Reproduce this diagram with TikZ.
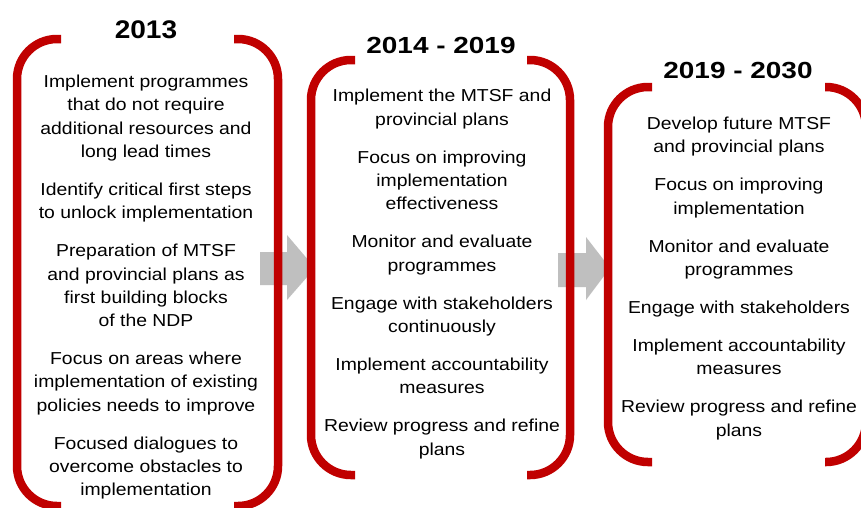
\documentclass[tikz,border=0pt]{standalone}
\usepackage{fontspec}
\setmainfont{Liberation Sans}
\newfontfamily\bodyfont{Liberation Sans}[FakeStretch=1.12]
\newfontfamily\headfontA{Liberation Sans}[FakeStretch=1.10]
\newfontfamily\headfontB{Liberation Sans}[FakeStretch=1.20]
\definecolor{brkred}{RGB}{192,0,0}
\definecolor{arrgray}{RGB}{191,191,191}
\tikzset{
  brk/.style={draw=brkred, line width=8.5pt, rounded corners=40pt},
  bodytext/.style={font=\bodyfont\fontsize{17.3}{23.3}\selectfont, align=center, inner sep=0pt, anchor=north, text=black},
  headA/.style={font=\headfontA\bfseries\fontsize{25.5}{30}\selectfont, anchor=base, inner sep=0pt},
  headB/.style={font=\headfontB\bfseries\fontsize{23.3}{28}\selectfont, anchor=base, inner sep=0pt},
  bigarrow/.style={fill=arrgray, draw=none}
}
\begin{document}
\begin{tikzpicture}[x=1pt,y=-1pt]
\useasboundingbox (0,0) rectangle (861,507);
\fill[white] (0,0) rectangle (861,507);
\clip (0,0) rectangle (861,507);

% gray arrows
\fill[bigarrow] (260,252) -- (287,252) -- (287,235) -- (315,268) -- (287,300) -- (287,285) -- (260,285) -- cycle;
\fill[bigarrow] (558,253) -- (586,253) -- (586,237) -- (610,268) -- (586,300) -- (586,287) -- (558,287) -- cycle;

% box 1 brackets
\draw[brk] (61,39) -- (17,39) -- (17,506) -- (61,506);
\draw[brk] (234,39) -- (278,39) -- (278,506) -- (234,506);
% box 2 brackets
\draw[brk] (355,60) -- (311,60) -- (311,475) -- (355,475);
\draw[brk] (527,60) -- (570,60) -- (570,475) -- (527,475);
% box 3 brackets
\draw[brk] (652,87) -- (608,87) -- (608,462) -- (652,462);
\draw[brk] (825,87) -- (866,87) -- (866,462) -- (825,462);

% headings
\node[headA] (h1) at (146,38.3) {2013};
\node[headB] (h2) at (441,53.3) {2014 - 2019};
\node[headB] (h3) at (738,78.3) {2019 - 2030};

% texts
\node[bodytext] (t1) at (146,73.3) {\rule{0pt}{14pt}Implement programmes\\that do not require\\additional resources and\\long lead times\\[14.7pt]
Identify critical first steps\\to unlock implementation\\[14.7pt]
Preparation of MTSF\\and provincial plans as\\first building blocks\\of the NDP\\[14.7pt]
Focus on areas where\\implementation of existing\\policies needs to improve\\[14.7pt]
Focused dialogues to\\overcome obstacles to\\implementation};

\node[bodytext] (t2) at (442,87.7) {\rule{0pt}{14pt}Implement the MTSF and\\provincial plans\\[14.7pt]
Focus on improving\\implementation\\effectiveness\\[14.7pt]
Monitor and evaluate\\programmes\\[14.7pt]
Engage with stakeholders\\continuously\\[14.7pt]
Implement accountability\\measures\\[14.7pt]
Review progress and refine\\plans};

\node[bodytext] (t3) at (739,115.3) {\rule{0pt}{14pt}Develop future MTSF\\and provincial plans\\[14.7pt]
Focus on improving\\implementation\\[14.7pt]
Monitor and evaluate\\programmes\\[14.7pt]
Engage with stakeholders\\[14.7pt]
Implement accountability\\measures\\[14.7pt]
Review progress and refine\\plans};
\end{tikzpicture}
\end{document}
